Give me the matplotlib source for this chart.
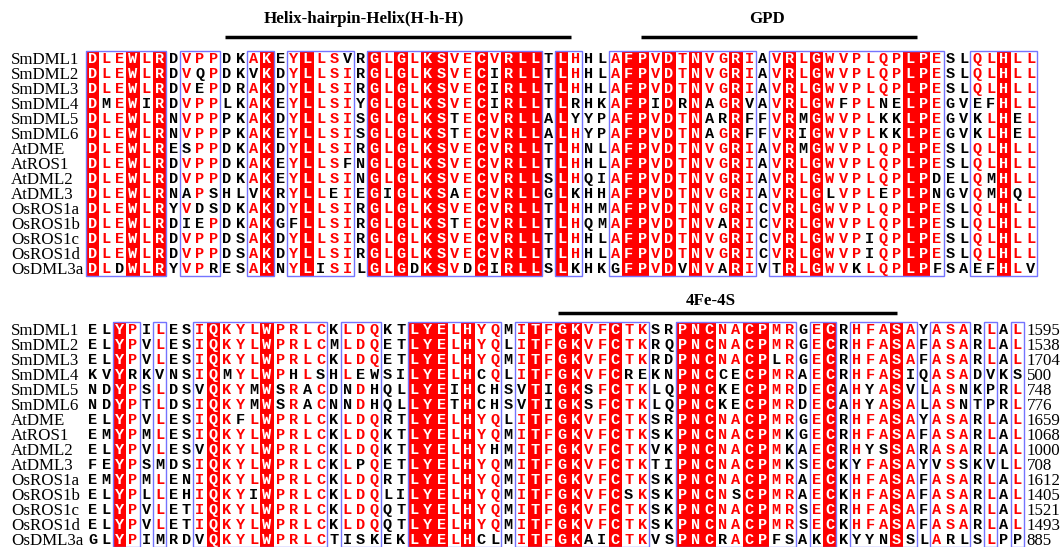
import matplotlib
matplotlib.use("Agg")
import matplotlib.pyplot as plt
from matplotlib.patches import Rectangle
from collections import Counter

# ---------------- data ----------------
names = ["SmDML1", "SmDML2", "SmDML3", "SmDML4", "SmDML5", "SmDML6", "AtDME",
         "AtROS1", "AtDML2", "AtDML3", "OsROS1a", "OsROS1b", "OsROS1c",
         "OsROS1d", "OsDML3a"]

block1_seqs = [
    "DLEWLRDVPPDKAKEYLLSVRGLGLKSVECVRLLTLHHLAFPVDTNVGRIAVRLGWVPLQPLPESLQLHLL",
    "DLEWLRDVQPDKVKDYLLSIRGLGLKSVECIRLLTLHHLAFPVDTNVGRIAVRLGWVPLQPLPESLQLHLL",
    "DLEWLRDVEPDRAKDYLLSIRGLGLKSVECIRLLTLHHLAFPVDTNVGRIAVRLGWVPLQPLPESLQLHLL",
    "DMEWIRDVPPLKAKEYLLSIYGLGLKSVECIRLLTLRHKAFPIDRNAGRVAVRLGWFPLNELPEGVEFHLL",
    "DLEWLRNVPPPKAKDYLLSISGLGLKSTECVRLLALYYPAFPVDTNARRFFVRMGWVPLKKLPEGVKLHEL",
    "DLEWLRNVPPPKAKEYLLSISGLGLKSTECVRLLALHYPAFPVDTNAGRFFVRIGWVPLKKLPEGVKLHEL",
    "DLEWLRESPPDKAKDYLLSIRGLGLKSVECVRLLTLHNLAFPVDTNVGRIAVRMGWVPLQPLPESLQLHLL",
    "DLEWLRDVPPDKAKEYLLSFNGLGLKSVECVRLLTLHHLAFPVDTNVGRIAVRLGWVPLQPLPESLQLHLL",
    "DLEWLRDVPPDKAKEYLLSINGLGLKSVECVRLLSLHQIAFPVDTNVGRIAVRLGWVPLQPLPDELQMHLL",
    "DLEWLRNAPSHLVKRYLLEIEGIGLKSAECVRLLGLKHHAFPVDTNVGRIAVRLGLVPLEPLPNGVQMHQL",
    "DLEWLRYVDSDKAKDYLLSIRGLGLKSVECVRLLTLHHMAFPVDTNVGRICVRLGWVPLQPLPESLQLHLL",
    "DLEWLRDIEPDKAKGFLLSIRGLGLKSTECVRLLTLHQMAFPVDTNVARICVRLGWVPLQPLPESLQLHLL",
    "DLEWLRDVPPDSAKDYLLSIRGLGLKSVECVRLLTLHHLAFPVDTNVGRICVRLGWVPIQPLPESLQLHLL",
    "DLEWLRDVPPDSAKDYLLSIRGLGLKSVECVRLLTLHHLAFPVDTNVGRICVRLGWVPIQPLPESLQLHLL",
    "DLDWLRYVPRESAKNYLISILGLGDKSVDCIRLLSLKHKGFPVDVNVARIVTRLGWVKLQPLPFSAEFHLV",
]

block2_seqs = [
    "ELYPILESIQKYLWPRLCKLDQKTLYELHYQMITFGKVFCTKSRPNCNACPMRGECRHFASAYASARLAL",
    "ELYPVLESIQKYLWPRLCMLDQETLYELHYQLITFGKVFCTKRQPNCNACPMRGECRHFASAFASARLAL",
    "ELYPVLESIQKYLWPRLCKLDQETLYELHYQMITFGKVFCTKRDPNCNACPLRGECRHFASAFASARLAL",
    "KVYRKVNSIQMYLWPHLSHLEWSILYELHCQLITFGKVFCREKNPNCCECPMRAECRHFASIQASADVKS",
    "NDYPSLDSVQKYMWSRACDNDHQLLYEIHCHSVTIGKSFCTKLQPNCKECPMRDECAHYASVLASNKPRL",
    "NDYPTLDSIQKYMWSRACNNDHQLLYETHCHSVTIGKSFCTKLQPNCKECPMRDECAHYASALASNTPRL",
    "ELYPVLESIQKFLWPRLCKLDQRTLYELHYQLITFGKVFCTKSRPNCNACPMRGECRHFASAYASARLAL",
    "EMYPMLESIQKYLWPRLCKLDQKTLYELHYQMITFGKVFCTKSKPNCNACPMKGECRHFASAFASARLAL",
    "ELYPVLESVQKYLWPRLCKLDQKTLYELHYHMITFGKVFCTKVKPNCNACPMKAECRHYSSARASARLAL",
    "FEYPSMDSIQKYLWPRLCKLPQETLYELHYQMITFGKVFCTKTIPNCNACPMKSECKYFASAYVSSKVLL",
    "EMYPMLENIQKYLWPRLCKLDQRTLYELHYQMITFGKVFCTKSKPNCNACPMRAECKHFASAFASARLAL",
    "ELYPLLEHIQKYIWPRLCKLDQLILYELHYQMITFGKVFCSKSKPNCNSCPMRAECKHFASAFASARLAL",
    "ELYPVLETIQKYLWPRLCKLDQQTLYELHYQMITFGKVFCTKSKPNCNACPMRSECRHFASAFASARLAL",
    "ELYPVLETIQKYLWPRLCKLDQQTLYELHYQMITFGKVFCTKSKPNCNACPMRSECKHFASAFASARLAL",
    "GLYPIMRDVQKYLWPRLCTISKEKLYELHCLMITFGKAICTKVSPNCRACPFSAKCKYYNSSLARLSLPP",
]

block2_ends = [1595, 1538, 1704, 500, 748, 776, 1659, 1068, 1000, 708,
               1612, 1405, 1521, 1493, 885]

# similarity boxes (1-based, inclusive column ranges)
block1_boxes = [(1, 6), (8, 10), (13, 14), (16, 20), (22, 34), (36, 37),
                (40, 50), (52, 64), (67, 71)]
block2_boxes = [(3, 4), (6, 6), (9, 18), (20, 22), (25, 31), (33, 42),
                (45, 53), (55, 56), (58, 62), (64, 66), (68, 68), (70, 70)]

# domain annotations: label, bar start column, bar end column, label column
block1_domains = [("Helix-hairpin-Helix(H-h-H)", 10.4, 36.2, 20.7),
                  ("GPD", 41.4, 62.0, 50.8)]
block2_domains = [("4Fe-4S", 35.2, 60.5, 46.6)]

# ---------------- layout / style ----------------
W, H = 1064, 547
X0, CW = 86.0, 13.4          # first column left edge (px), column width (px)
ROW_H = 15.0
RED = "#ff0000"
BOX = "#7474ff"
SERIF = ["Liberation Serif", "DejaVu Serif"]
MONO = ["Liberation Mono", "DejaVu Sans Mono"]
LABEL_FS = 12.2
SEQ_FS = 11.0

blocks = [
    dict(seqs=block1_seqs, boxes=block1_boxes, domains=block1_domains,
         top=50.5, bar_y=37.0, text_y=19.0, ends=None),
    dict(seqs=block2_seqs, boxes=block2_boxes, domains=block2_domains,
         top=322.0, bar_y=313.0, text_y=301.0, ends=block2_ends),
]

fig = plt.figure(figsize=(W / 100, H / 100), dpi=100)
ax = fig.add_axes([0, 0, 1, 1])
ax.set_xlim(-X0 / CW, (W - X0) / CW)
ax.set_ylim(H, 0)
ax.axis("off")

for blk in blocks:
    seqs = blk["seqs"]
    top = blk["top"]
    nrow = len(seqs)
    ncol = len(seqs[0])
    boxed = set()
    for s, e in blk["boxes"]:
        boxed.update(range(s, e + 1))

    for j in range(ncol):
        col = [sq[j] for sq in seqs]
        cons, _ = Counter(col).most_common(1)[0]
        identical = all(c == col[0] for c in col)
        if identical:
            ax.add_patch(Rectangle((j, top), 1, nrow * ROW_H, facecolor=RED,
                                   edgecolor="none", zorder=1))
        for i, ch in enumerate(col):
            if identical:
                color = "white"
            elif (j + 1) in boxed and ch == cons:
                color = RED
            else:
                color = "black"
            yc = top + (i + 0.5) * ROW_H
            ax.text(j + 0.5, yc + 4.6, ch, family=MONO, weight="bold",
                    fontsize=SEQ_FS, color=color, ha="center", va="baseline",
                    zorder=3)

    for s, e in blk["boxes"]:
        ax.add_patch(Rectangle((s - 1, top), e - s + 1, nrow * ROW_H,
                               fill=False, edgecolor=BOX, linewidth=1.0,
                               zorder=2))

    for i, nm in enumerate(names):
        yc = top + (i + 0.5) * ROW_H
        ax.text(-75 / CW, yc + 5.6, nm, family=SERIF, fontsize=LABEL_FS,
                ha="left", va="baseline", color="black")
        if blk["ends"] is not None:
            ax.text(ncol + 0.2, yc + 5.6, str(blk["ends"][i]), family=SERIF,
                    fontsize=LABEL_FS, ha="left", va="baseline", color="black")

    for label, s, e, lx in blk["domains"]:
        ax.plot([s, e], [blk["bar_y"], blk["bar_y"]], color="black",
                linewidth=2.5, solid_capstyle="butt")
        ax.text(lx, blk["text_y"], label, family=SERIF, weight="bold",
                fontsize=LABEL_FS, ha="center", va="center", color="black")

fig.savefig("out.png", dpi=100, facecolor="white")
